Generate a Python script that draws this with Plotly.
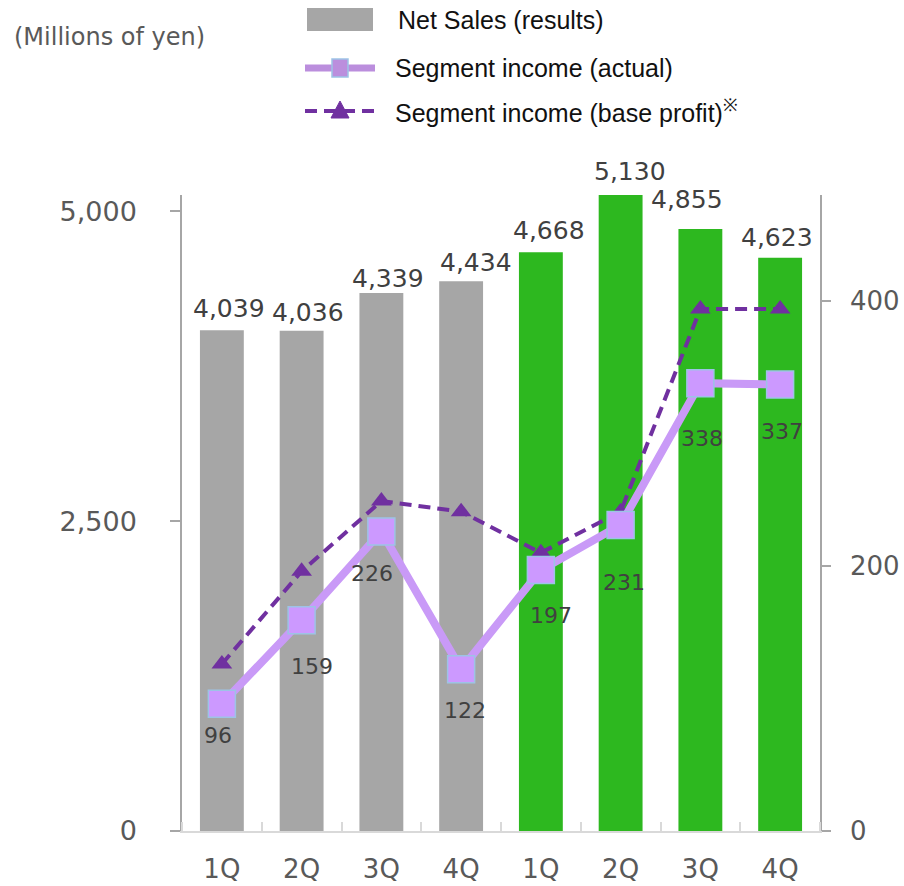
import plotly.graph_objects as go

quarters = ["1Q", "2Q", "3Q", "4Q", "1Q", "2Q", "3Q", "4Q"]
net_sales = [4039, 4036, 4339, 4434, 4668, 5130, 4855, 4623]
seg_actual = [96, 159, 226, 122, 197, 231, 338, 337]
seg_base = [126, 196, 249, 241, 210, 241, 394, 394]
bar_colors = ["#A6A6A6"] * 4 + ["#2DB81F"] * 4

# label nudges (pixels) as placed in the original chart
sales_label_dx = [7, 6, 7, 15, 8, 9, -13, -3]
sales_label_dy = [22, 18, 15, 19, 22, 23, 30, 20]
income_label_dx = [-4, 10, -9, 4, 10, 3, 2, 2]
income_label_dy = [32, 46, 42, 41, 46, 58, 55, 47]

W, H = 904, 886
pos = list(range(len(quarters)))

def px(x):
    return x / W

def py(y):
    return 1 - y / H

fig = go.Figure()

fig.add_trace(go.Bar(
    x=pos, y=net_sales, marker=dict(color=bar_colors, line=dict(width=0)),
    width=0.55, showlegend=False, name="Net Sales (results)",
))

fig.add_trace(go.Scatter(
    x=pos, y=seg_base, yaxis="y2", mode="lines+markers",
    line=dict(color="#7030A0", width=4, dash="12px,7px"),
    marker=dict(symbol="triangle-up", size=18, color="#7030A0"),
    showlegend=False, cliponaxis=False, name="Segment income (base profit)",
))

fig.add_trace(go.Scatter(
    x=pos, y=seg_actual, yaxis="y2", mode="lines+markers",
    line=dict(color="#C99AF7", width=8),
    marker=dict(symbol="square", size=27, color="#CC99FF", line=dict(color="#9DC3E6", width=1.5)),
    showlegend=False, cliponaxis=False, name="Segment income (actual)",
))

shapes = [
    dict(type="rect", xref="paper", yref="paper", x0=px(307), x1=px(373), y0=py(31), y1=py(8),
         fillcolor="#A6A6A6", line=dict(width=0)),
    dict(type="line", xref="paper", yref="paper", x0=px(305), x1=px(375), y0=py(68), y1=py(68),
         line=dict(color="#BB8EDD", width=7)),
    dict(type="rect", xref="paper", yref="paper", x0=px(332), x1=px(348), y0=py(77), y1=py(59),
         fillcolor="#BB8EDD", line=dict(color="#9DC3E6", width=1.5)),
    dict(type="line", xref="paper", yref="paper", x0=px(305), x1=px(375), y0=py(111), y1=py(111),
         line=dict(color="#7030A0", width=4, dash="12px,7px")),
    dict(type="path", xref="paper", yref="paper",
         path=f"M {px(331)},{py(118)} L {px(349)},{py(118)} L {px(340)},{py(101)} Z",
         fillcolor="#7030A0", line=dict(color="#7030A0", width=1)),
]

legend_font = dict(family="Liberation Sans", size=25, color="#111111")
annotations = [
    dict(text="(Millions of yen)", x=px(12), y=py(37), xref="paper", yref="paper",
         xanchor="left", yanchor="middle", showarrow=False,
         font=dict(family="DejaVu Sans", size=24, color="#595959")),
    dict(text="Net Sales (results)", x=px(396), y=py(20), xref="paper", yref="paper",
         xanchor="left", yanchor="middle", showarrow=False, font=legend_font),
    dict(text="Segment income (actual)", x=px(393), y=py(68), xref="paper", yref="paper",
         xanchor="left", yanchor="middle", showarrow=False, font=legend_font),
    dict(text="Segment income (base profit)<sup>※</sup>", x=px(393), y=py(111), xref="paper", yref="paper",
         xanchor="left", yanchor="middle", showarrow=False, font=legend_font),
]
for xi, v, dx, dy in zip(pos, net_sales, sales_label_dx, sales_label_dy):
    annotations.append(dict(
        x=xi, y=v, xref="x", yref="y", text=f"{v:,}", showarrow=False,
        xanchor="center", yanchor="middle", xshift=dx, yshift=dy,
        font=dict(family="DejaVu Sans", size=25, color="#404040"),
    ))
for xi, v, dx, dy in zip(pos, seg_actual, income_label_dx, income_label_dy):
    annotations.append(dict(
        x=xi, y=v, xref="x", yref="y2", text=str(v), showarrow=False,
        xanchor="center", yanchor="middle", xshift=dx, yshift=-dy,
        font=dict(family="DejaVu Sans", size=22, color="#404040"),
    ))

fig.update_layout(
    width=W, height=H, margin=dict(l=0, r=0, t=0, b=0, autoexpand=False),
    paper_bgcolor="white", plot_bgcolor="white",
    shapes=shapes, annotations=annotations, bargap=0.45,
    xaxis=dict(
        domain=[px(182), px(820)], range=[-0.5, 7.5], automargin=False,
        tickvals=pos, ticktext=quarters, ticks="", showgrid=False, zeroline=False,
        showline=True, linecolor="#D9D9D9", linewidth=1.5,
        tickfont=dict(family="DejaVu Sans", size=26, color="#595959"),
        ticklabelstandoff=14,
        minor=dict(tickvals=[i - 0.5 for i in range(len(quarters) + 1)], ticks="inside",
                   ticklen=9, tickcolor="#D9D9D9", tickwidth=1.5, showgrid=False),
    ),
    yaxis=dict(
        domain=[py(831), py(195)], range=[0, 5130], tickvals=[0, 2500, 5000], automargin=False,
        tickformat=",", showgrid=False, zeroline=False,
        showline=True, linecolor="#A6A6A6", linewidth=1.5,
        ticks="outside", ticklen=10, tickcolor="#A6A6A6", tickwidth=1.5,
        tickfont=dict(family="DejaVu Sans", size=27, color="#595959"),
        ticklabelstandoff=28,
    ),
    yaxis2=dict(
        overlaying="y", side="right", anchor="x", range=[0, 480], tickvals=[0, 200, 400],
        automargin=False, showgrid=False, zeroline=False,
        showline=True, linecolor="#A6A6A6", linewidth=1.5,
        ticks="outside", ticklen=9, tickcolor="#A6A6A6", tickwidth=1.5,
        tickfont=dict(family="DejaVu Sans", size=26, color="#595959"),
        ticklabelstandoff=14,
    ),
)

fig.write_html("out.html")
